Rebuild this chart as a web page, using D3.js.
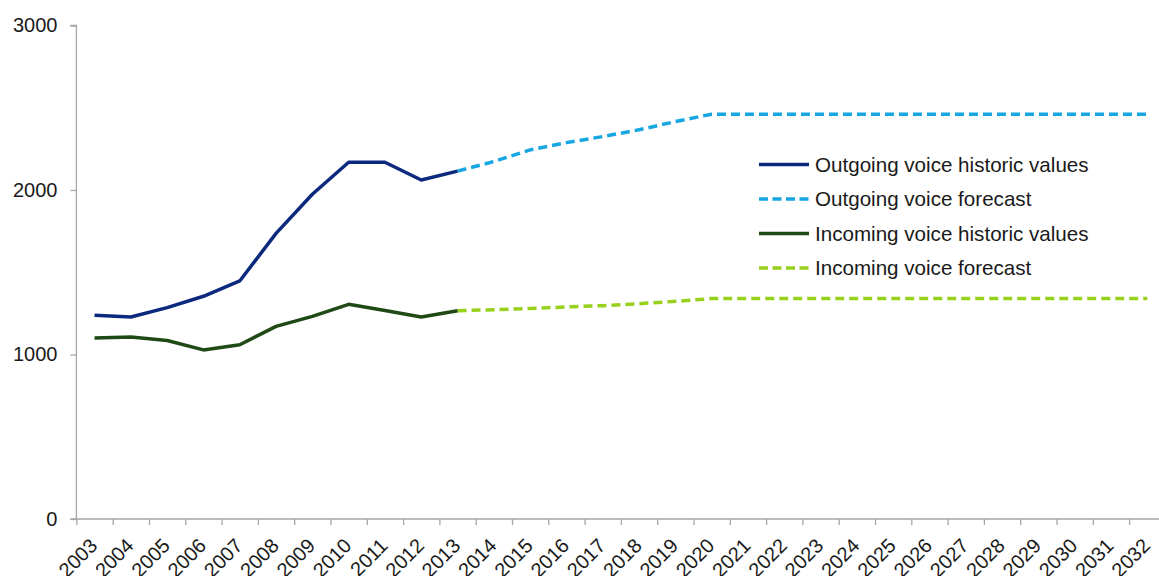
<!DOCTYPE html>
<html>
<head>
<meta charset="utf-8">
<script src="https://cdn.jsdelivr.net/npm/d3@7"></script>
<style>
  html, body { margin: 0; padding: 0; background: #fff; }
  svg { display: block; font-family: "Liberation Sans", Arial, sans-serif; }
</style>
</head>
<body>
<svg id="chart" width="1159" height="576"></svg>
<script>
const years = d3.range(2003, 2033).map(String);
const histYears = ["2003","2004","2005","2006","2007","2008","2009","2010","2011","2012","2013"];
const outgoingHistoric = [1238, 1228, 1285, 1354, 1447, 1736, 1974, 2169, 2169, 2061, 2115];
const incomingHistoric = [1100, 1106, 1085, 1028, 1059, 1171, 1232, 1305, 1268, 1228, 1266];
const forecastYears = ["2013","2014","2015","2016","2017","2018","2019","2020","2021","2022","2023","2024","2025","2026","2027","2028","2029","2030","2031","2032"];
const outgoingForecast = [2115, 2173, 2244, 2288, 2325, 2366, 2416, 2461, 2461, 2461, 2461, 2461, 2461, 2461, 2461, 2461, 2461, 2461, 2461, 2461];
const incomingForecast = [1266, 1272, 1280, 1289, 1297, 1309, 1323, 1340, 1340, 1340, 1340, 1340, 1340, 1340, 1340, 1340, 1340, 1340, 1340, 1340];
const yTicks = [0, 1000, 2000, 3000];
const seriesNames = ["Outgoing voice historic values", "Outgoing voice forecast", "Incoming voice historic values", "Incoming voice forecast"];

const colors = {
  outHist: "#0b2a7e",
  outFc: "#16a6e2",
  inHist: "#1f4a16",
  inFc: "#97d11c"
};

const svg = d3.select("#chart");
const left = 76.4, step = 36.3;
const x = d3.scaleBand().domain(years).range([left, left + step * years.length]).padding(0);
const xIdx = d3.scaleLinear().domain([0, years.length]).range([left, left + step * years.length]);
const y = d3.scaleLinear().domain([0, 3000]).range([519, 25.5]);
const cx = d => x(d) + x.bandwidth() / 2;

const axisColor = "#a6a6a6";
const textColor = "#1a1a1a";

// Y axis
const yAxis = svg.append("g").attr("transform", `translate(${left},0)`)
  .call(d3.axisLeft(y).tickValues(yTicks).tickSize(6).tickPadding(13).tickFormat(d3.format("d")));
yAxis.select(".domain").attr("stroke", axisColor).attr("stroke-width", 1.3).attr("d", `M-6,${y(3000)}H0V${y(0)}`);
yAxis.selectAll(".tick line").attr("stroke", axisColor).attr("stroke-width", 1.3);
yAxis.selectAll(".tick text").attr("font-size", 20).attr("fill", textColor)
  .attr("font-family", "Liberation Sans, Arial, sans-serif");

// X axis: tick marks at category boundaries
const xTickAxis = svg.append("g").attr("transform", `translate(0,${y(0)})`)
  .call(d3.axisBottom(xIdx).tickValues(d3.range(0, years.length + 1)).tickSize(6).tickFormat(""));
xTickAxis.select(".domain").attr("stroke", axisColor).attr("stroke-width", 1.3)
  .attr("d", `M${left - 6},0H${left + step * years.length}`);
xTickAxis.selectAll(".tick line").attr("stroke", axisColor).attr("stroke-width", 1.3);

// X labels at category centres
const xLabelAxis = svg.append("g").attr("transform", `translate(0,${y(0)})`)
  .call(d3.axisBottom(x).tickSize(0));
xLabelAxis.select(".domain").remove();
xLabelAxis.selectAll(".tick text")
  .attr("font-size", 20).attr("fill", textColor)
  .attr("font-family", "Liberation Sans, Arial, sans-serif")
  .attr("text-anchor", "end")
  .attr("x", 0).attr("y", 0).attr("dy", 0)
  .attr("transform", "translate(4,28) rotate(-45)");

// Lines
const line = d3.line().x(d => cx(d[0])).y(d => y(d[1]));
function drawLine(xs, vals, color, dashed) {
  svg.append("path")
    .datum(xs.map((d, i) => [d, vals[i]]))
    .attr("fill", "none")
    .attr("stroke", color)
    .attr("stroke-width", 3.5)
    .attr("stroke-linejoin", "round")
    .attr("stroke-dasharray", dashed ? "9,5" : null)
    .attr("d", line);
}
drawLine(forecastYears, outgoingForecast, colors.outFc, true);
drawLine(forecastYears, incomingForecast, colors.inFc, true);
drawLine(histYears, outgoingHistoric, colors.outHist, false);
drawLine(histYears, incomingHistoric, colors.inHist, false);

// Legend
const legendColors = [colors.outHist, colors.outFc, colors.inHist, colors.inFc];
const legendDash = [false, true, false, true];
const legend = svg.append("g");
seriesNames.forEach((name, i) => {
  const ly = 164.5 + i * 34.5;
  legend.append("line")
    .attr("x1", 759).attr("x2", 809).attr("y1", ly).attr("y2", ly)
    .attr("stroke", legendColors[i]).attr("stroke-width", 3.5)
    .attr("stroke-dasharray", legendDash[i] ? "9,4.5" : null);
  legend.append("text")
    .attr("x", 815).attr("y", ly).attr("dy", "0.35em")
    .attr("font-size", 20.6).attr("fill", textColor)
    .text(name);
});
</script>
</body>
</html>
